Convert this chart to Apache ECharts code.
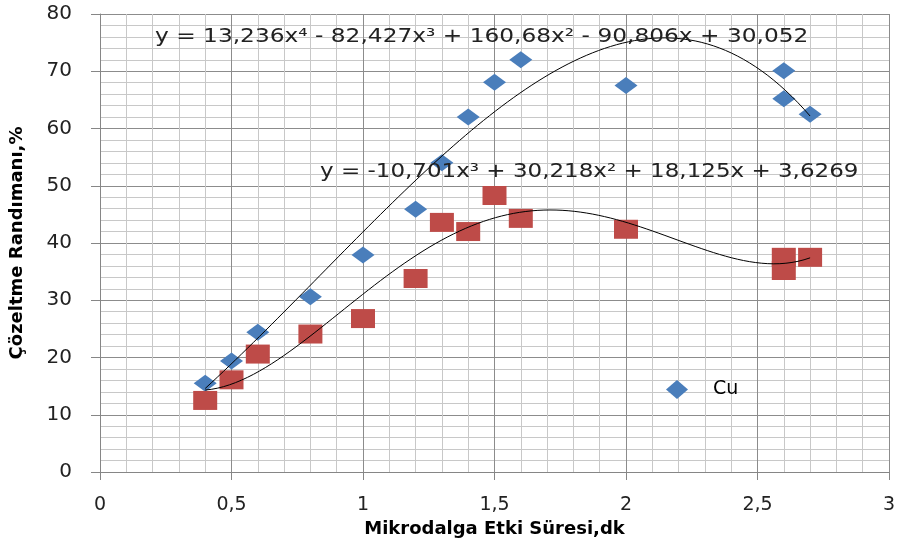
<!DOCTYPE html>
<html>
<head>
<meta charset="utf-8">
<script src="https://cdn.jsdelivr.net/npm/echarts@6/dist/echarts.min.js"></script>
<style>
  html, body { margin: 0; padding: 0; background: #fff; }
  #chart { width: 899px; height: 541px; }
</style>
</head>
<body>
<div id="chart"></div>
<script>
  // Cu (blue diamonds)
  const cuX = [0.4, 0.5, 0.6, 0.8, 1.0, 1.2, 1.3, 1.4, 1.5, 1.6, 2.0, 2.6, 2.6, 2.7];
  const cuY = [15.5, 19.4, 24.4, 30.6, 37.9, 45.9, 54.0, 62.0, 68.1, 72.0, 67.5, 70.1, 65.2, 62.5];

  // second series (red squares, not in legend)
  const redX = [0.4, 0.5, 0.6, 0.8, 1.0, 1.2, 1.3, 1.4, 1.5, 1.6, 2.0, 2.6, 2.6, 2.7];
  const redY = [12.5, 16.1, 20.6, 24.1, 26.8, 33.8, 43.6, 42.0, 48.3, 44.3, 42.4, 37.5, 35.2, 37.5];

  // trendline curves (a polynomial is fitted through them)
  const cuTrendX = [0.4, 0.8, 1.0, 1.33, 1.5, 2.0, 2.5, 2.6, 2.7];
  const cuTrendY = [14.5, 33.0, 41.8, 56.0, 63.0, 75.5, 70.0, 67.0, 62.4];
  const redTrendX = [0.4, 0.5, 0.6, 0.8, 1.0, 1.33, 1.5, 1.72, 2.0, 2.5, 2.57, 2.7];
  const redTrendY = [14.6, 15.2, 17.0, 24.0, 31.3, 41.2, 44.3, 45.8, 43.5, 36.7, 36.4, 37.3];

  const eqCu = 'y = 13,236x⁴ - 82,427x³ + 160,68x² - 90,806x + 30,052';
  const eqRed = 'y = -10,701x³ + 30,218x² + 18,125x + 3,6269';

  // least squares polynomial
  function polyfit(xs, ys, deg) {
    const n = deg + 1;
    const A = [];
    for (let i = 0; i < n; i++) {
      A.push(new Array(n + 1).fill(0));
    }
    for (let k = 0; k < xs.length; k++) {
      for (let i = 0; i < n; i++) {
        for (let j = 0; j < n; j++) A[i][j] += Math.pow(xs[k], i + j);
        A[i][n] += ys[k] * Math.pow(xs[k], i);
      }
    }
    for (let i = 0; i < n; i++) {
      let p = i;
      for (let r = i + 1; r < n; r++) if (Math.abs(A[r][i]) > Math.abs(A[p][i])) p = r;
      [A[i], A[p]] = [A[p], A[i]];
      for (let r = 0; r < n; r++) {
        if (r === i) continue;
        const f = A[r][i] / A[i][i];
        for (let c = i; c <= n; c++) A[r][c] -= f * A[i][c];
      }
    }
    return A.map((row, i) => row[n] / row[i]);
  }

  function trend(xs, ys, deg) {
    const c = polyfit(xs, ys, deg);
    const lo = Math.min(...xs), hi = Math.max(...xs);
    const out = [];
    for (let i = 0; i <= 100; i++) {
      const x = lo + (hi - lo) * i / 100;
      let y = 0;
      for (let k = c.length - 1; k >= 0; k--) y = y * x + c[k];
      out.push([x, y]);
    }
    return out;
  }

  const chart = echarts.init(document.getElementById('chart'));
  const font = 'DejaVu Sans';
  const comma = (v) => String(v).replace('.', ',');

  const option = {
    animation: false,
    backgroundColor: '#fff',
    textStyle: { fontFamily: font },
    grid: { left: 100, right: 10, top: 14, bottom: 69, outerBoundsMode: 'none', containLabel: false },
    legend: {
      data: ['Cu'],
      left: 666,
      top: 380,
      padding: 0,
      itemWidth: 22,
      itemHeight: 19,
      textStyle: { fontSize: 19, color: '#000', fontFamily: font, padding: [2, 0, 0, 20] },
    },
    xAxis: {
      type: 'value',
      min: 0,
      max: 3,
      interval: 0.5,
      name: 'Mikrodalga Etki Süresi,dk',
      nameLocation: 'middle',
      nameGap: 42,
      nameTextStyle: { fontSize: 18, fontWeight: 'bold', color: '#000', fontFamily: font },
      axisLine: { show: true, lineStyle: { color: '#868686', width: 1 } },
      axisTick: { show: true, length: 8, lineStyle: { color: '#868686' } },
      axisLabel: { fontSize: 19, color: '#222', margin: 24, formatter: comma },
      splitLine: { show: true, lineStyle: { color: '#8c8c8c', width: 1 } },
      minorTick: { show: false, splitNumber: 5 },
      minorSplitLine: { show: true, lineStyle: { color: '#c8c8c8', width: 1 } },
    },
    yAxis: {
      type: 'value',
      min: 0,
      max: 80,
      interval: 10,
      name: 'Çözeltme Randımanı,%',
      nameLocation: 'middle',
      nameGap: 74,
      nameTextStyle: { fontSize: 18, fontWeight: 'bold', color: '#000', fontFamily: font },
      axisLine: { show: true, lineStyle: { color: '#868686', width: 1 } },
      axisTick: { show: true, length: 9, lineStyle: { color: '#868686' } },
      axisLabel: { fontSize: 20, color: '#222', margin: 28 },
      splitLine: { show: true, lineStyle: { color: '#8c8c8c', width: 1 } },
      minorTick: { show: false, splitNumber: 5 },
      minorSplitLine: { show: true, lineStyle: { color: '#c8c8c8', width: 1 } },
    },
    graphic: [
      {
        type: 'text',
        x: 155,
        y: 28,
        scaleX: 1.225,
        style: { text: eqCu, fontSize: 19, fill: '#222', fontFamily: font },
        z: 100,
      },
      {
        type: 'text',
        x: 320,
        y: 163,
        scaleX: 1.21,
        style: { text: eqRed, fontSize: 19, fill: '#222', fontFamily: font },
        z: 100,
      },
    ],
    series: [
      {
        name: 'Cu',
        type: 'scatter',
        symbol: 'diamond',
        symbolSize: [23, 17],
        itemStyle: { color: '#4a7ebb', opacity: 1 },
        data: cuX.map((x, i) => [x, cuY[i]]),
        z: 3,
      },
      {
        name: 'Red',
        type: 'scatter',
        symbol: 'rect',
        symbolSize: [24, 19],
        itemStyle: { color: '#be4b48', opacity: 1 },
        data: redX.map((x, i) => [x, redY[i]]),
        z: 3,
      },
      {
        name: 'trendCu',
        type: 'line',
        showSymbol: false,
        silent: true,
        data: trend(cuTrendX, cuTrendY, 4),
        lineStyle: { color: '#000', width: 1 },
        z: 5,
      },
      {
        name: 'trendRed',
        type: 'line',
        showSymbol: false,
        silent: true,
        data: trend(redTrendX, redTrendY, 4),
        lineStyle: { color: '#000', width: 1 },
        z: 5,
      },
    ],
  };

  chart.setOption(option);
</script>
</body>
</html>
